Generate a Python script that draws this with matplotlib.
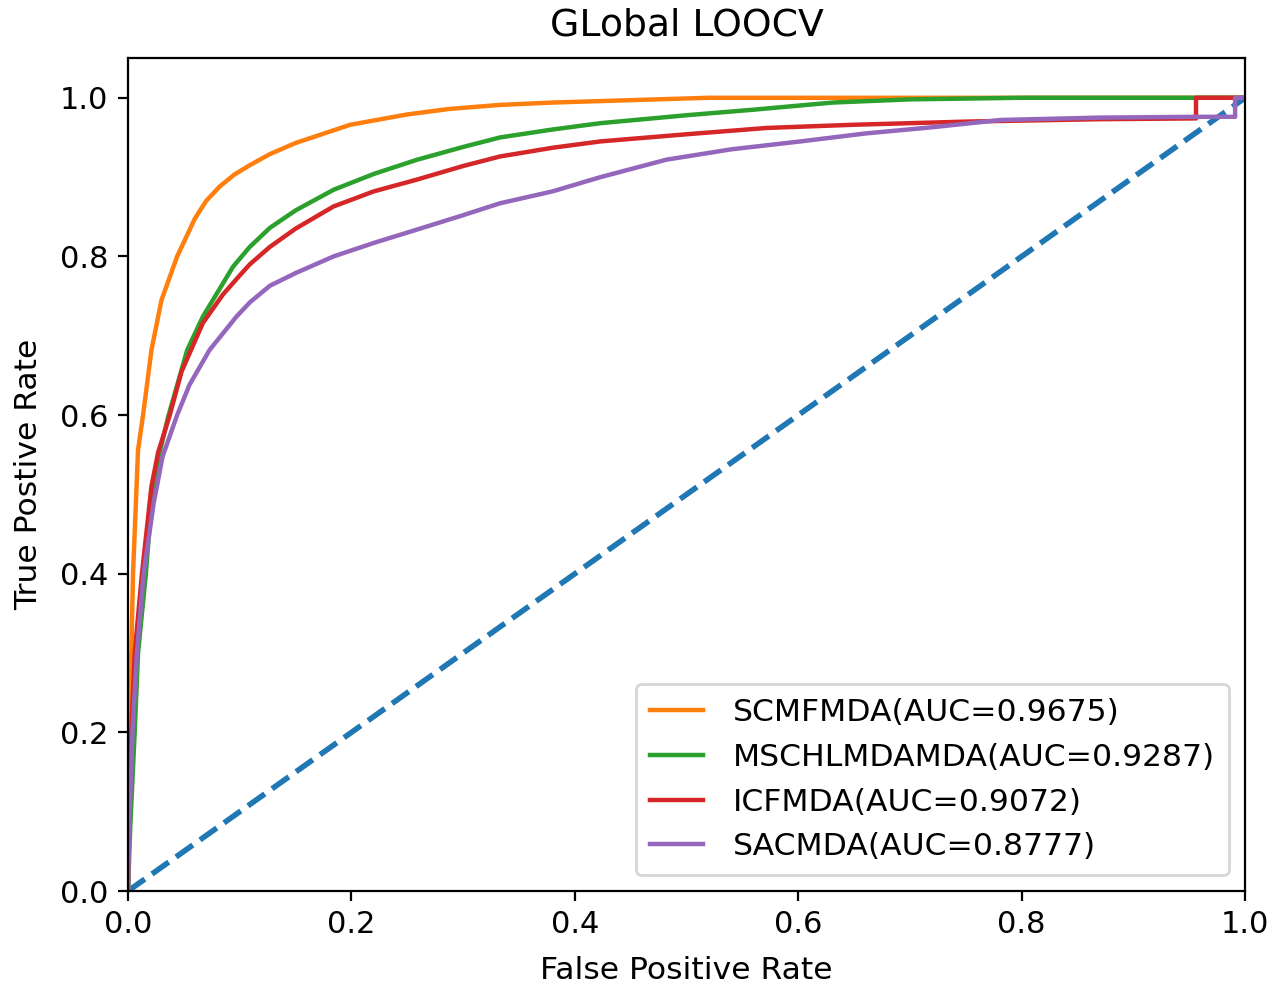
import matplotlib
matplotlib.use("Agg")
import matplotlib.pyplot as plt

title = "GLobal LOOCV"
labels = ["SCMFMDA(AUC=0.9675)", "MSCHLMDAMDA(AUC=0.9287)",
          "ICFMDA(AUC=0.9072)", "SACMDA(AUC=0.8777)"]

fpr_scmf = [0.0, 0.0005, 0.001, 0.003, 0.0045, 0.009, 0.0135, 0.021, 0.030, 0.044,
            0.060, 0.07, 0.082, 0.095, 0.109, 0.127, 0.15, 0.199, 0.25, 0.288,
            0.333, 0.38, 0.45, 0.52, 1.0]
tpr_scmf = [0.0, 0.1, 0.2, 0.30, 0.40, 0.556, 0.60, 0.682, 0.745, 0.80,
            0.848, 0.870, 0.888, 0.903, 0.915, 0.929, 0.943, 0.966, 0.979, 0.986,
            0.991, 0.994, 0.997, 1.0, 1.0]

fpr_msch = [0.0, 0.002, 0.004, 0.006, 0.009, 0.016, 0.021, 0.027, 0.036, 0.053,
            0.067, 0.094, 0.109, 0.127, 0.15, 0.184, 0.22, 0.259, 0.30, 0.333,
            0.38, 0.423, 0.5, 0.56, 0.631, 0.7, 0.8, 1.0]
tpr_msch = [0.0, 0.08, 0.14, 0.2, 0.3, 0.40, 0.49, 0.545, 0.598, 0.682,
            0.724, 0.787, 0.812, 0.836, 0.858, 0.884, 0.904, 0.922, 0.938, 0.950,
            0.960, 0.968, 0.978, 0.985, 0.994, 0.998, 1.0, 1.0]

fpr_icf = [0.0, 0.001, 0.003, 0.006, 0.0125, 0.021, 0.027, 0.037, 0.048, 0.067,
           0.085, 0.100, 0.109, 0.127, 0.15, 0.184, 0.22, 0.259, 0.30, 0.333,
           0.38, 0.423, 0.5, 0.572, 0.65, 0.751, 0.87, 0.956, 0.956, 1.0]
tpr_icf = [0.0, 0.08, 0.2, 0.30, 0.40, 0.51, 0.553, 0.598, 0.655, 0.716,
           0.752, 0.776, 0.790, 0.812, 0.835, 0.863, 0.882, 0.897, 0.914, 0.926,
           0.937, 0.945, 0.954, 0.962, 0.966, 0.970, 0.973, 0.974, 1.0, 1.0]

fpr_sac = [0.0, 0.0015, 0.004, 0.008, 0.014, 0.023, 0.031, 0.044, 0.055, 0.073,
           0.097, 0.109, 0.127, 0.15, 0.184, 0.22, 0.259, 0.30, 0.333, 0.38,
           0.423, 0.482, 0.54, 0.602, 0.66, 0.721, 0.781, 0.87, 0.956, 0.991,
           0.991, 1.0]
tpr_sac = [0.0, 0.1, 0.2, 0.30, 0.40, 0.489, 0.548, 0.600, 0.638, 0.682,
           0.724, 0.742, 0.763, 0.779, 0.80, 0.817, 0.834, 0.852, 0.867, 0.882,
           0.90, 0.922, 0.935, 0.945, 0.955, 0.963, 0.972, 0.975, 0.976, 0.976,
           1.0, 1.0]

diag = [0.0, 1.0]

plt.rcParams["font.size"] = 11.3
plt.rcParams["xtick.labelsize"] = 11
plt.rcParams["ytick.labelsize"] = 11

fig = plt.figure(figsize=(6.425, 4.925), dpi=200)
ax = fig.add_axes([0.0996, 0.0954, 0.8694, 0.8456])
ax.plot(diag, diag, linestyle="--", lw=2, color="tab:blue")
ax.plot(fpr_scmf, tpr_scmf, color="tab:orange", lw=1.6, label=labels[0])
ax.plot(fpr_msch, tpr_msch, color="tab:green", lw=1.6, label=labels[1])
ax.plot(fpr_icf, tpr_icf, color="tab:red", lw=1.6, label=labels[2])
ax.plot(fpr_sac, tpr_sac, color="tab:purple", lw=1.6, label=labels[3])
ax.set_xlim(0, 1)
ax.set_ylim(0, 1.05)
ax.set_xlabel("False Positive Rate", labelpad=6)
ax.set_ylabel("True Postive Rate", labelpad=6)
ax.set_title(title, fontsize=13.6, pad=8)
ax.legend(loc="lower right", handlelength=1.7, handletextpad=0.95,
          labelspacing=0.5, borderpad=0.45)
fig.savefig("out.png", dpi=200)
